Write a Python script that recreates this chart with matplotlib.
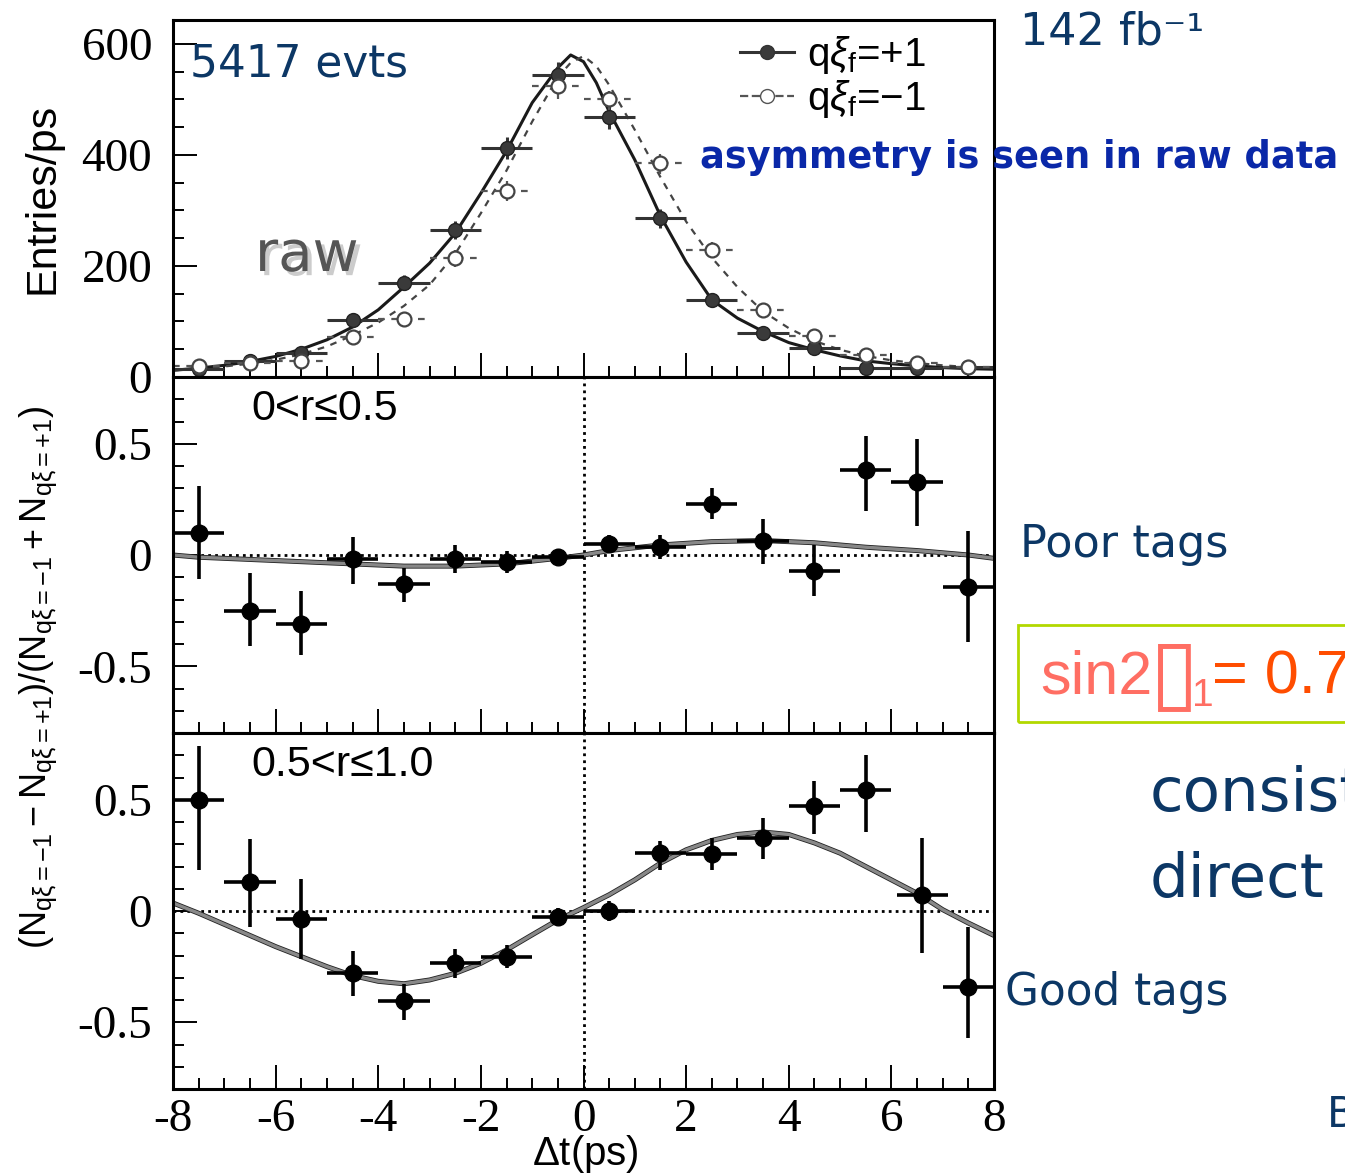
import matplotlib
matplotlib.use("Agg")
import matplotlib.pyplot as plt
import matplotlib.patheffects as pe
from matplotlib.lines import Line2D
from matplotlib.patches import Rectangle
from matplotlib.ticker import MultipleLocator

plt.rcParams['axes.unicode_minus'] = False
plt.rcParams['mathtext.fontset'] = 'custom'
plt.rcParams['mathtext.rm'] = 'Liberation Sans'
plt.rcParams['mathtext.it'] = 'Liberation Sans:italic'
plt.rcParams['mathtext.sf'] = 'Liberation Sans'

W, H = 1345, 1176

# ---- data ----
bins = [-7.5, -6.5, -5.5, -4.5, -3.5, -2.5, -1.5, -0.5, 0.5, 1.5, 2.5, 3.5, 4.5, 5.5, 6.5, 7.5]

# raw dt distributions (Entries/ps)
n_plus = [15, 28, 44, 102, 170, 265, 413, 544, 468, 286, 139, 80, 53, 16, 16, 18]
n_plus_err = [4, 5, 7, 10, 13, 16, 20, 23, 22, 17, 12, 9, 7, 4, 4, 4]
n_minus = [20, 26, 29, 72, 105, 214, 335, 524, 501, 385, 229, 121, 73, 40, 25, 18]
n_minus_err = [4, 5, 5, 9, 10, 15, 18, 23, 22, 20, 15, 11, 8, 6, 5, 4]

# fit curves (read at points)
fit_plus_t = [-8, -7.5, -7, -6.5, -6, -5.5, -5, -4.5, -4, -3.5, -3, -2.5, -2, -1.5, -1, -0.5, -0.25,
              0, 0.25, 0.5, 1, 1.5, 2, 2.5, 3, 3.5, 4, 4.5, 5, 5.5, 6, 6.5, 7, 7.5, 8]
fit_plus = [12, 16, 21, 28, 37, 50, 67, 90, 121, 162, 205, 259, 331, 407, 494, 557, 580,
            568, 530, 478, 391, 290, 207, 139, 106, 82, 62, 49, 38, 29, 24, 20, 17, 15, 14]
fit_minus_t = [-8, -7.5, -7, -6.5, -6, -5.5, -5, -4.5, -4, -3.5, -3, -2.5, -2, -1.5, -1, -0.5, -0.25,
               0, 0.25, 0.5, 1, 1.5, 2, 2.5, 3, 3.5, 4, 4.5, 5, 5.5, 6, 6.5, 7, 7.5, 8]
fit_minus = [12, 15, 19, 24, 31, 41, 55, 75, 98, 128, 166, 222, 295, 372, 460, 540, 566,
             578, 560, 526, 445, 360, 280, 215, 162, 118, 88, 65, 49, 38, 30, 25, 21, 18, 16]

# asymmetry, poor tags 0<r<=0.5
poor_x = bins
poor_asym = [0.10, -0.25, -0.31, -0.02, -0.13, -0.02, -0.03, -0.01,
             0.05, 0.035, 0.23, 0.065, -0.07, 0.38, 0.33, -0.145]
poor_lo = [0.21, 0.16, 0.14, 0.11, 0.08, 0.06, 0.05, 0.035,
           0.04, 0.055, 0.07, 0.105, 0.115, 0.18, 0.20, 0.245]
poor_hi = [0.21, 0.17, 0.15, 0.10, 0.07, 0.065, 0.05, 0.035,
           0.04, 0.055, 0.07, 0.095, 0.115, 0.155, 0.19, 0.255]
poor_fit_t = [-8, -7.5, -6.5, -5.5, -4.5, -3.5, -2.5, -1.5, -0.5, 0, 0.5, 1.5, 2.5, 3.5, 4.5, 5.5, 6.5, 7.5, 8]
poor_fit = [0.0, -0.01, -0.02, -0.03, -0.04, -0.05, -0.05, -0.04, -0.015, 0.0,
            0.02, 0.045, 0.06, 0.065, 0.055, 0.035, 0.02, 0.0, -0.015]

# asymmetry, good tags 0.5<r<=1.0
good_x = [-7.5, -6.5, -5.5, -4.5, -3.5, -2.5, -1.5, -0.5, 0.5, 1.5, 2.5, 3.5, 4.5, 5.5, 6.6, 7.5]
good_asym = [0.50, 0.13, -0.035, -0.28, -0.405, -0.235, -0.205, -0.025,
             0.0, 0.26, 0.255, 0.33, 0.47, 0.545, 0.07, -0.34]
good_lo = [0.315, 0.20, 0.18, 0.10, 0.085, 0.065, 0.05, 0.04,
           0.045, 0.075, 0.07, 0.095, 0.125, 0.19, 0.26, 0.23]
good_hi = [0.24, 0.195, 0.18, 0.10, 0.075, 0.065, 0.05, 0.04,
           0.045, 0.055, 0.075, 0.09, 0.115, 0.155, 0.26, 0.27]
good_fit_t = [-8, -7.5, -7, -6, -5, -4.5, -4, -3.5, -3, -2.5, -2, -1.5, -1, -0.5, 0,
              0.5, 1, 1.5, 2, 2.5, 3, 3.5, 4, 4.5, 5, 5.5, 6, 6.5, 7, 7.5, 8]
good_fit = [0.036, -0.01, -0.06, -0.16, -0.25, -0.29, -0.316, -0.327, -0.31, -0.28, -0.235, -0.175, -0.107, -0.04, 0.015,
            0.073, 0.14, 0.215, 0.275, 0.317, 0.344, 0.355, 0.344, 0.306, 0.26, 0.20, 0.14, 0.08, 0.006, -0.054, -0.11]

navy = '#0c3765'
serif = ['Liberation Serif', 'DejaVu Serif']
sans = ['Liberation Sans', 'DejaVu Sans']


def fx(px):
    return px / W


def fy(py):
    return 1 - py / H


def panel(top, bottom):
    return fig.add_axes([fx(173), fy(bottom), (994 - 173) / W, (bottom - top) / H])


def style(ax, ymajor, yminor, xlabels):
    ax.set_xlim(-8, 8)
    ax.xaxis.set_major_locator(MultipleLocator(2))
    ax.xaxis.set_minor_locator(MultipleLocator(0.5))
    ax.yaxis.set_major_locator(MultipleLocator(ymajor))
    ax.yaxis.set_minor_locator(MultipleLocator(yminor))
    ax.tick_params(which='both', direction='in', top=False, right=False, width=1.4)
    ax.tick_params(which='major', length=17)
    ax.tick_params(which='minor', length=8)
    ax.tick_params(axis='y', labelsize=34, pad=15)
    ax.tick_params(axis='x', labelsize=34, pad=7, labelbottom=xlabels)
    for lab in ax.get_xticklabels() + ax.get_yticklabels():
        lab.set_family(serif)
    for s in ax.spines.values():
        s.set_linewidth(2.2)


fig = plt.figure(figsize=(W / 100, H / 100), dpi=100)

# ---- top panel: raw distributions ----
ax0 = panel(20, 377)
ax0.plot(fit_plus_t, fit_plus, color='#1a1a1a', lw=2.2)
ax0.plot(fit_minus_t, fit_minus, color='#444444', lw=1.6, ls=(0, (3, 3)))
ax0.errorbar(bins, n_plus, xerr=0.5, yerr=n_plus_err, fmt='o', ms=10, color='#333333',
             mfc='#3a3a3a', mec='#222222', elinewidth=2.2, capsize=0)
eb = ax0.errorbar(bins, n_minus, xerr=0.5, yerr=n_minus_err, fmt='o', ms=10, color='#555555',
                  mfc='white', mec='#444444', mew=1.6, elinewidth=1.6, capsize=0)
for c in eb[2]:
    c.set_linestyle((0, (3, 3)))
ax0.set_ylim(0, 643)
style(ax0, 200, 50, False)
ax0.set_yticks([0, 200, 400, 600])

handles = [Line2D([], [], color='#333333', marker='o', ms=10, mfc='#3a3a3a', lw=2.2),
           Line2D([], [], color='#555555', marker='o', ms=10, mfc='white', ls='--', lw=1.6)]
ax0.legend(handles, [r'q$\xi_{\mathrm{f}}$=+1', r'q$\xi_{\mathrm{f}}$=$-$1'], loc='upper left',
           bbox_to_anchor=(fx(724), fy(18)), bbox_transform=fig.transFigure, frameon=False,
           prop={'family': sans, 'size': 29}, handlelength=1.35, handletextpad=0.3, labelspacing=0.05,
           borderaxespad=0)

# ---- middle panel: poor tags ----
ax1 = panel(377, 733)
ax1.axhline(0, color='black', lw=2, ls=(0, (1, 1.5)))
ax1.axvline(0, color='black', lw=2, ls=(0, (1, 1.5)))
ax1.plot(poor_fit_t, poor_fit, color='#888888', lw=2.4,
         path_effects=[pe.withStroke(linewidth=3.6, foreground='#222222')])
ax1.errorbar(poor_x, poor_asym, xerr=0.5, yerr=[poor_lo, poor_hi], fmt='o', ms=12, color='black',
             elinewidth=2.6, capsize=0)
ax1.set_ylim(-0.8, 0.8)
style(ax1, 0.5, 0.1, False)
ax1.set_yticks([-0.5, 0, 0.5])
ax1.set_yticklabels(['-0.5', '0', '0.5'])
ax1.text(0.095, 0.91, '0<r≤0.5', transform=ax1.transAxes, fontsize=31, family=sans, va='center')

# ---- bottom panel: good tags ----
ax2 = panel(733, 1089)
ax2.axhline(0, color='black', lw=2, ls=(0, (1, 1.5)))
ax2.axvline(0, color='black', lw=2, ls=(0, (1, 1.5)))
ax2.plot(good_fit_t, good_fit, color='#888888', lw=2.4,
         path_effects=[pe.withStroke(linewidth=3.6, foreground='#222222')])
ax2.errorbar(good_x, good_asym, xerr=0.5, yerr=[good_lo, good_hi], fmt='o', ms=12, color='black',
             elinewidth=2.6, capsize=0)
ax2.set_ylim(-0.8, 0.8)
style(ax2, 0.5, 0.1, True)
ax2.set_yticks([-0.5, 0, 0.5])
ax2.set_yticklabels(['-0.5', '0', '0.5'])
ax2.set_xticks([-8, -6, -4, -2, 0, 2, 4, 6, 8])
ax2.set_xticklabels(['-8', '-6', '-4', '-2', '0', '2', '4', '6', '8'], family=serif)
ax2.text(0.095, 0.91, '0.5<r≤1.0', transform=ax2.transAxes, fontsize=31, family=sans, va='center')

# ---- axis titles ----
fig.text(fx(42), fy(198), 'Entries/ps', rotation=90, ha='center', va='center', fontsize=31, family=sans)
fig.text(fx(38), fy(677),
         r'$(\mathrm{N}_{\mathrm{q\xi=-1}}-\mathrm{N}_{\mathrm{q\xi=+1}})/(\mathrm{N}_{\mathrm{q\xi=-1}}+\mathrm{N}_{\mathrm{q\xi=+1}})$',
         rotation=90, ha='center', va='center', fontsize=26)
fig.text(fx(585), fy(1154), r'$\Delta$t(ps)', ha='center', va='center', fontsize=29, family=sans)

# ---- annotations ----
fig.text(fx(190), fy(64), '5417 evts', color=navy, fontsize=31.5, family='DejaVu Sans', va='center')
fig.text(fx(255), fy(256), 'raw', color='#555555', fontsize=40.5, family='DejaVu Sans', va='center',
         path_effects=[pe.withSimplePatchShadow(offset=(3, -3), shadow_rgbFace='#aaaaaa', alpha=0.6)])
fig.text(fx(1020), fy(32), '142 fb⁻¹', color=navy, fontsize=32, family='DejaVu Sans', va='center')
fig.text(fx(700), fy(158), 'asymmetry is seen in raw data', color='#0a28a8', fontsize=26.5,
         family='DejaVu Sans', weight='bold', va='center')
fig.text(fx(1020), fy(545), 'Poor tags', color=navy, fontsize=32, family='DejaVu Sans', va='center')
fig.text(fx(1005), fy(992), 'Good tags', color=navy, fontsize=31.5, family='DejaVu Sans', va='center')
fig.text(fx(1150), fy(795), 'consistent', color=navy, fontsize=44, family='DejaVu Sans', va='center')
fig.text(fx(1150), fy(880), 'direct', color=navy, fontsize=44, family='DejaVu Sans', va='center')
fig.text(fx(1327), fy(1115), 'B', color=navy, fontsize=30, family='DejaVu Sans', va='center')

fig.add_artist(Rectangle((fx(1018), fy(722)), (1360 - 1018) / W, (722 - 625) / H,
                         transform=fig.transFigure, fill=False, edgecolor='#b2d800', lw=2))
fig.text(fx(1040), fy(693), 'sin2', color='#ff6e63', fontsize=44, family=sans, va='baseline')
fig.text(fx(1150), fy(676), '▯', color='#ff6e63', fontsize=64, family=['DejaVu Sans'],
         va='center')
fig.text(fx(1192), fy(706), '1', color='#ff6e63', fontsize=28, family=sans, va='baseline')
fig.text(fx(1212), fy(693), '= 0.7', color='#ff4d00', fontsize=44, family=sans, va='baseline')

fig.savefig('out.png', dpi=100)
